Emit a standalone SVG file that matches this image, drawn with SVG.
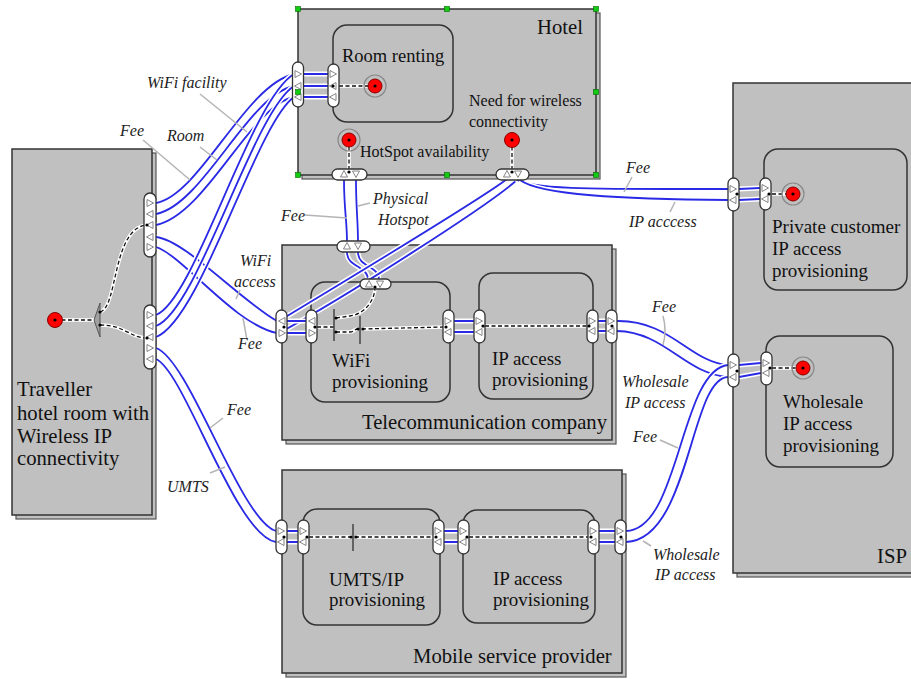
<svg xmlns="http://www.w3.org/2000/svg" width="911" height="679" viewBox="0 0 911 679">
<style>
.actor{fill:#c0c0c0;stroke:#333;stroke-width:1.5}
.shadow{fill:#c0c0c0;stroke:#555;stroke-width:1.2}
.va{fill:#c0c0c0;stroke:#333;stroke-width:1.5}
.port{fill:#fff;stroke:#333;stroke-width:1.3}
.t{font-family:"Liberation Serif","Times New Roman",serif;fill:#111}
.t20{font-size:20.7px}
.t19{font-size:19px}
.t18{font-size:18.5px}
.t15{font-size:16px}
.lbl{font-family:"Liberation Serif","Times New Roman",serif;font-style:italic;font-size:16px;fill:#222}
.halo{fill:none;stroke:#fff;stroke-width:5}
.ex{fill:none;stroke:#2a2ae6;stroke-width:1.8}
.dw{fill:none;stroke:#fff;stroke-width:3.5}
.dd{fill:none;stroke:#111;stroke-width:1.3;stroke-dasharray:4 2.5}
.lead{fill:none;stroke:#b4b4b4;stroke-width:1.5}
.bar{stroke:#444;stroke-width:1.5}
.tri{fill:#fff;stroke:#777;stroke-width:0.9}
.hd{fill:#1c1;stroke:#060;stroke-width:0.6}
.ring{fill:none;stroke:#888;stroke-width:1.2}
.red{fill:#f00;stroke:#800;stroke-width:1}
.dot{fill:#000}
</style>
<defs>
<polygon id="tr" points="-3,-3.5 3.5,0 -3,3.5"/>
<polygon id="tl" points="3,-3.5 -3.5,0 3,3.5"/>
<polygon id="tu" points="-3.5,3 0,-3.5 3.5,3"/>
<polygon id="td" points="-3.5,-3 0,3.5 3.5,-3"/>
<path id="c_a1" d="M156,203 C200,195 245,85 294,74"/>
<path id="c_a2" d="M156,214 C203,205 248,95 294,86"/>
<path id="c_a3" d="M156,225 C206,215 251,105 294,97"/>
<path id="c_b1" d="M156,315 C195,300 250,100 294,74"/>
<path id="c_b2" d="M156,326 C198,310 253,112 294,86"/>
<path id="c_b3" d="M156,337 C201,320 256,124 294,97"/>
<path id="c_h" d="M303,74 L328,74 M303,86 L328,86 M303,97 L328,97"/>
<path id="c_c1" d="M156,237 C185,240 240,300 277,321"/>
<path id="c_c2" d="M156,247 C182,255 235,325 277,333"/>
<path id="c_d1" d="M507,179 C480,200 330,290 279,321"/>
<path id="c_d2" d="M518,179 C490,205 340,300 279,333"/>
<path id="c_e1" d="M516,179 C530,190 600,189 729,189"/>
<path id="c_e2" d="M520,180 C540,195 620,199 729,200"/>
<path id="c_f1" d="M344,180 C344,210 347,220 347,242"/>
<path id="c_f2" d="M356,180 C356,210 358,220 358,242"/>
<path id="c_g1" d="M347,252 C347,268 368,265 368,280"/>
<path id="c_g2" d="M358,252 C358,268 379,265 379,280"/>
<path id="c_t" d="M287,321 L306,321 M287,333 L306,333 M454,321 L474,321 M454,332 L474,332 M598,321 L606,321 M598,331 L606,331"/>
<path id="c_k1" d="M617,321 C670,320 690,362 728,365"/>
<path id="c_k2" d="M617,331 C665,332 685,374 728,377"/>
<path id="c_m" d="M287,531 L298,531 M287,542 L298,542 M444,531 L458,531 M444,542 L458,542 M599,531 L615,531 M599,542 L615,542"/>
<path id="c_i1" d="M626,531 C680,530 680,370 728,365"/>
<path id="c_i2" d="M626,542 C690,540 690,378 728,377"/>
<path id="c_j1" d="M156,348 C190,360 240,520 276,531"/>
<path id="c_j2" d="M156,359 C185,372 235,535 276,542"/>
<path id="c_p" d="M739,189 L760,188 M739,200 L760,199 M739,365 L761,363 M739,377 L761,373"/>
</defs>

<!-- Actors -->
<g id="hotel">
<rect class="shadow" x="302" y="13" width="298" height="166"/>
<rect class="actor" x="298" y="9" width="298" height="166"/>
<text class="t t20" x="537" y="34">Hotel</text>
<g id="room-renting">
<rect class="va" x="333" y="25" width="120" height="97" rx="14"/>
<text class="t t18" x="342" y="62">Room renting</text>
</g>
<text class="t t15" x="360" y="157">HotSpot availability</text>
<text class="t t15" x="469" y="106">Need for wireless</text>
<text class="t t15" x="469" y="127">connectivity</text>
</g>

<g id="traveller">
<rect class="shadow" x="16" y="153" width="140" height="366"/>
<rect class="actor" x="12" y="149" width="140" height="366"/>
<text class="t t20" x="17" y="396">Traveller</text>
<text class="t t20" x="17" y="420">hotel room with</text>
<text class="t t20" x="17" y="443">Wireless IP</text>
<text class="t t20" x="17" y="465">connectivity</text>
</g>

<g id="telecom">
<rect class="shadow" x="286" y="249" width="330" height="195"/>
<rect class="actor" x="282" y="245" width="330" height="195"/>
<text class="t t20" x="362" y="429">Telecommunication company</text>
<g id="wifi-prov">
<rect class="va" x="311" y="282" width="139" height="120" rx="14"/>
<text class="t t19" x="332" y="367">WiFi</text>
<text class="t t19" x="332" y="388">provisioning</text>
</g>
<g id="tel-ip-prov">
<rect class="va" x="479" y="273" width="114" height="126" rx="14"/>
<text class="t t19" x="492" y="365">IP access</text>
<text class="t t19" x="492" y="386">provisioning</text>
</g>
</g>

<g id="mobile">
<rect class="shadow" x="286" y="474" width="340" height="203"/>
<rect class="actor" x="282" y="470" width="340" height="203"/>
<text class="t t20" x="413" y="663">Mobile service provider</text>
<g id="umts-prov">
<rect class="va" x="303" y="509" width="137" height="116" rx="14"/>
<text class="t t19" x="329" y="586">UMTS/IP</text>
<text class="t t19" x="329" y="606">provisioning</text>
</g>
<g id="mob-ip-prov">
<rect class="va" x="463" y="510" width="132" height="113" rx="14"/>
<text class="t t19" x="493" y="585">IP access</text>
<text class="t t19" x="493" y="606">provisioning</text>
</g>
</g>

<g id="isp">
<rect class="shadow" x="737" y="87" width="190" height="490"/>
<rect class="actor" x="733" y="83" width="190" height="490"/>
<text class="t t20" x="877" y="563">ISP</text>
<g id="private-prov">
<rect class="va" x="764" y="149" width="143" height="141" rx="14"/>
<text class="t t19" x="772" y="233">Private customer</text>
<text class="t t19" x="772" y="255">IP access</text>
<text class="t t19" x="772" y="277">provisioning</text>
</g>
<g id="wholesale-prov">
<rect class="va" x="766" y="336" width="127" height="131" rx="14"/>
<text class="t t19" x="783" y="408">Wholesale</text>
<text class="t t19" x="783" y="430">IP access</text>
<text class="t t19" x="783" y="452">provisioning</text>
</g>
</g>

<!-- Dependency paths -->
<g id="dependencies">
<g class="dw">
<path d="M339,86 L375,86"/><path d="M349,140 L349,172"/><path d="M512,140 L512,172"/>
<path d="M55,320 L94,320"/><path d="M100,312 C118,308 112,228 147,225"/><path d="M100,325 C125,325 130,338 147,338"/>
<path d="M317,327 L334,327"/><path d="M336,318 L350,316 C365,314 375,300 375,287"/><path d="M336,332 L350,332 C354,332 354,329 358,329"/>
<path d="M362,329 L444,327"/><path d="M485,326 L588,326"/><path d="M772,194 L793,194"/><path d="M772,368 L803,368"/>
<path d="M309,537 L353,537"/><path d="M355,537 L434,537"/><path d="M469,537 L589,537"/>
</g>
<g class="dd">
<path d="M339,86 L375,86"/><path d="M349,140 L349,172"/><path d="M512,140 L512,172"/>
<path d="M55,320 L94,320"/><path d="M100,312 C118,308 112,228 147,225"/><path d="M100,325 C125,325 130,338 147,338"/>
<path d="M317,327 L334,327"/><path d="M336,318 L350,316 C365,314 375,300 375,287"/><path d="M336,332 L350,332 C354,332 354,329 358,329"/>
<path d="M362,329 L444,327"/><path d="M485,326 L588,326"/><path d="M772,194 L793,194"/><path d="M772,368 L803,368"/>
<path d="M309,537 L353,537"/><path d="M355,537 L434,537"/><path d="M469,537 L589,537"/>
</g>
<polygon points="94,320 100,303 100,337" fill="#a0a0a0" stroke="#555" stroke-width="1"/>
<line class="bar" x1="334" y1="309" x2="334" y2="341"/>
<line class="bar" x1="360" y1="316" x2="360" y2="344"/>
<line class="bar" x1="353" y1="524" x2="353" y2="551"/>
<g class="dot">
<circle cx="100" cy="312" r="1.6"/><circle cx="100" cy="325" r="1.6"/>
<circle cx="336" cy="318" r="1.6"/><circle cx="336" cy="332" r="1.6"/><circle cx="358" cy="329" r="1.6"/><circle cx="363" cy="329" r="1.6"/>
<circle cx="351" cy="537" r="1.6"/><circle cx="356" cy="537" r="1.6"/>
</g>
</g>

<!-- Stimuli -->
<g id="stimuli">
<circle class="ring" cx="375" cy="86" r="11"/><circle class="red" cx="375" cy="86" r="7"/>
<circle class="ring" cx="349" cy="140" r="11"/><circle class="red" cx="349" cy="140" r="7"/>
<circle class="red" cx="512" cy="140" r="7.5"/>
<circle class="red" cx="55" cy="320" r="7.5"/>
<circle class="ring" cx="793" cy="194" r="11"/><circle class="red" cx="793" cy="194" r="7"/>
<circle class="ring" cx="803" cy="368" r="11"/><circle class="red" cx="803" cy="368" r="7"/>
<g class="dot">
<circle cx="375" cy="86" r="1.6"/><circle cx="349" cy="140" r="1.6"/><circle cx="512" cy="140" r="1.6"/>
<circle cx="55" cy="320" r="1.6"/><circle cx="793" cy="194" r="1.6"/><circle cx="803" cy="368" r="1.6"/>
</g>
</g>

<!-- Value exchanges -->
<g id="connectors">
<use href="#c_a1" class="halo"/><use href="#c_a1" class="ex"/>
<use href="#c_a2" class="halo"/><use href="#c_a2" class="ex"/>
<use href="#c_a3" class="halo"/><use href="#c_a3" class="ex"/>
<use href="#c_c1" class="halo"/><use href="#c_c1" class="ex"/>
<use href="#c_c2" class="halo"/><use href="#c_c2" class="ex"/>
<use href="#c_b1" class="halo"/><use href="#c_b1" class="ex"/>
<use href="#c_b2" class="halo"/><use href="#c_b2" class="ex"/>
<use href="#c_b3" class="halo"/><use href="#c_b3" class="ex"/>
<use href="#c_h" class="halo"/><use href="#c_h" class="ex"/>
<use href="#c_f1" class="halo"/><use href="#c_f1" class="ex"/>
<use href="#c_f2" class="halo"/><use href="#c_f2" class="ex"/>
<use href="#c_g1" class="halo"/><use href="#c_g1" class="ex"/>
<use href="#c_g2" class="halo"/><use href="#c_g2" class="ex"/>
<use href="#c_d1" class="halo"/><use href="#c_d1" class="ex"/>
<use href="#c_d2" class="halo"/><use href="#c_d2" class="ex"/>
<use href="#c_e1" class="halo"/><use href="#c_e1" class="ex"/>
<use href="#c_e2" class="halo"/><use href="#c_e2" class="ex"/>
<use href="#c_t" class="halo"/><use href="#c_t" class="ex"/>
<use href="#c_k1" class="halo"/><use href="#c_k1" class="ex"/>
<use href="#c_k2" class="halo"/><use href="#c_k2" class="ex"/>
<use href="#c_m" class="halo"/><use href="#c_m" class="ex"/>
<use href="#c_i1" class="halo"/><use href="#c_i1" class="ex"/>
<use href="#c_i2" class="halo"/><use href="#c_i2" class="ex"/>
<use href="#c_j1" class="halo"/><use href="#c_j1" class="ex"/>
<use href="#c_j2" class="halo"/><use href="#c_j2" class="ex"/>
<use href="#c_p" class="halo"/><use href="#c_p" class="ex"/>
</g>

<!-- Value ports / interfaces -->
<g id="ports">
<rect class="port" x="292.5" y="62" width="11" height="45" rx="5.5"/>
<rect class="port" x="328" y="64" width="11" height="43" rx="5.5"/>
<rect class="port" x="332" y="169" width="35" height="11" rx="5.5"/>
<rect class="port" x="496" y="169" width="33" height="11" rx="5.5"/>
<rect class="port" x="144" y="193" width="12" height="64" rx="6"/>
<rect class="port" x="144" y="305" width="12" height="64" rx="6"/>
<rect class="port" x="337" y="241" width="33" height="11" rx="5.5"/>
<rect class="port" x="360" y="279" width="31" height="10" rx="5"/>
<rect class="port" x="276" y="310" width="11" height="33" rx="5.5"/>
<rect class="port" x="306" y="310" width="11" height="33" rx="5.5"/>
<rect class="port" x="443" y="310" width="11" height="33" rx="5.5"/>
<rect class="port" x="474" y="310" width="11" height="33" rx="5.5"/>
<rect class="port" x="587" y="310" width="11" height="33" rx="5.5"/>
<rect class="port" x="606" y="310" width="11" height="33" rx="5.5"/>
<rect class="port" x="276" y="520" width="11" height="34" rx="5.5"/>
<rect class="port" x="298" y="520" width="11" height="34" rx="5.5"/>
<rect class="port" x="433" y="520" width="11" height="34" rx="5.5"/>
<rect class="port" x="458" y="520" width="11" height="34" rx="5.5"/>
<rect class="port" x="588" y="520" width="11" height="34" rx="5.5"/>
<rect class="port" x="615" y="520" width="11" height="34" rx="5.5"/>
<rect class="port" x="728" y="178" width="11" height="33" rx="5.5"/>
<rect class="port" x="760" y="178" width="11" height="32" rx="5.5"/>
<rect class="port" x="728" y="354" width="11" height="33" rx="5.5"/>
<rect class="port" x="761" y="352" width="11" height="33" rx="5.5"/>
<g class="tri">
<use href="#tr" x="298" y="74"/><use href="#tl" x="298" y="86"/><use href="#tl" x="298" y="97"/>
<use href="#tr" x="333" y="74"/><use href="#tl" x="333" y="86"/><use href="#tl" x="333" y="97"/>
<use href="#tu" x="344" y="174"/><use href="#td" x="356" y="174"/>
<use href="#tu" x="507" y="174"/><use href="#td" x="518" y="174"/>
<use href="#tr" x="150" y="203"/><use href="#tl" x="150" y="214"/><use href="#tl" x="150" y="225"/><use href="#tl" x="150" y="237"/><use href="#tr" x="150" y="247"/>
<use href="#tr" x="150" y="315"/><use href="#tl" x="150" y="326"/><use href="#tl" x="150" y="337"/><use href="#tr" x="150" y="348"/><use href="#tl" x="150" y="359"/>
<use href="#tu" x="347" y="246"/><use href="#td" x="358" y="246"/>
<use href="#tu" x="369" y="284"/><use href="#td" x="380" y="284"/>
<use href="#tl" x="282" y="321"/><use href="#tr" x="282" y="333"/>
<use href="#tl" x="312" y="321"/><use href="#tr" x="312" y="333"/>
<use href="#tr" x="448" y="321"/><use href="#tl" x="448" y="332"/>
<use href="#tr" x="479" y="321"/><use href="#tl" x="479" y="332"/>
<use href="#tr" x="592" y="321"/><use href="#tl" x="592" y="331"/>
<use href="#tr" x="611" y="321"/><use href="#tl" x="611" y="331"/>
<use href="#tr" x="281" y="531"/><use href="#tl" x="281" y="542"/>
<use href="#tr" x="303" y="531"/><use href="#tl" x="303" y="542"/>
<use href="#tr" x="438" y="531"/><use href="#tl" x="438" y="542"/>
<use href="#tr" x="463" y="531"/><use href="#tl" x="463" y="542"/>
<use href="#tr" x="593" y="531"/><use href="#tl" x="593" y="542"/>
<use href="#tr" x="620" y="531"/><use href="#tl" x="620" y="542"/>
<use href="#tr" x="733" y="189"/><use href="#tl" x="733" y="200"/>
<use href="#tr" x="765" y="188"/><use href="#tl" x="765" y="199"/>
<use href="#tr" x="733" y="365"/><use href="#tl" x="733" y="377"/>
<use href="#tr" x="766" y="363"/><use href="#tl" x="766" y="373"/>
</g>
<g class="dot">
<circle cx="333" cy="86" r="1.6"/><circle cx="147" cy="225" r="1.6"/><circle cx="147" cy="338" r="1.6"/>
<circle cx="349" cy="172" r="1.6"/><circle cx="512" cy="172" r="1.6"/><circle cx="375" cy="287" r="1.6"/>
<circle cx="284" cy="327" r="1.6"/><circle cx="315" cy="327" r="1.6"/><circle cx="446" cy="327" r="1.6"/><circle cx="483" cy="326" r="1.6"/><circle cx="589" cy="326" r="1.6"/><circle cx="612" cy="326" r="1.6"/>
<circle cx="284" cy="537" r="1.6"/><circle cx="307" cy="537" r="1.6"/><circle cx="436" cy="537" r="1.6"/><circle cx="467" cy="537" r="1.6"/><circle cx="591" cy="537" r="1.6"/><circle cx="621" cy="537" r="1.6"/>
<circle cx="737" cy="194" r="1.6"/><circle cx="769" cy="194" r="1.6"/><circle cx="737" cy="371" r="1.6"/><circle cx="770" cy="368" r="1.6"/>
</g>
</g>

<!-- Selection handles on Hotel -->
<g id="handles" class="hd">
<rect x="295.5" y="6.5" width="5" height="5"/><rect x="444.5" y="6.5" width="5" height="5"/><rect x="593.5" y="6.5" width="5" height="5"/>
<rect x="295.5" y="89.5" width="5" height="5"/><rect x="593.5" y="89.5" width="5" height="5"/>
<rect x="295.5" y="172.5" width="5" height="5"/><rect x="444.5" y="172.5" width="5" height="5"/><rect x="593.5" y="172.5" width="5" height="5"/>
</g>

<!-- Labels -->
<g id="labels">
<g class="lead">
<path d="M200,94 L247,132"/><path d="M143,140 L190,180"/><path d="M200,147 L217,160"/>
<path d="M305,215 L347,218"/><path d="M370,203 L358,206"/>
<path d="M240,290 L236,299"/><path d="M247,340 L243,318"/>
<path d="M223,418 L210,428"/><path d="M210,473 L225,467"/>
<path d="M632,177 L624,192"/><path d="M675,202 L670,212"/>
<path d="M663,316 Q667,330 663,345"/><path d="M643,541 L651,546"/><path d="M660,440 L678,448"/>
</g>
<text class="lbl" x="147" y="88">WiFi facility</text>
<text class="lbl" x="120" y="136">Fee</text>
<text class="lbl" x="167" y="141">Room</text>
<text class="lbl" x="281" y="221">Fee</text>
<text class="lbl" x="373" y="204">Physical</text>
<text class="lbl" x="378" y="225">Hotspot</text>
<text class="lbl" x="240" y="266">WiFi</text>
<text class="lbl" x="234" y="287">access</text>
<text class="lbl" x="238" y="349">Fee</text>
<text class="lbl" x="227" y="415">Fee</text>
<text class="lbl" x="167" y="492">UMTS</text>
<text class="lbl" x="626" y="173">Fee</text>
<text class="lbl" x="629" y="227">IP acccess</text>
<text class="lbl" x="652" y="312">Fee</text>
<text class="lbl" x="622" y="387">Wholesale</text>
<text class="lbl" x="625" y="408">IP access</text>
<text class="lbl" x="633" y="442">Fee</text>
<text class="lbl" x="653" y="560">Wholesale</text>
<text class="lbl" x="655" y="580">IP access</text>
</g>
</svg>
